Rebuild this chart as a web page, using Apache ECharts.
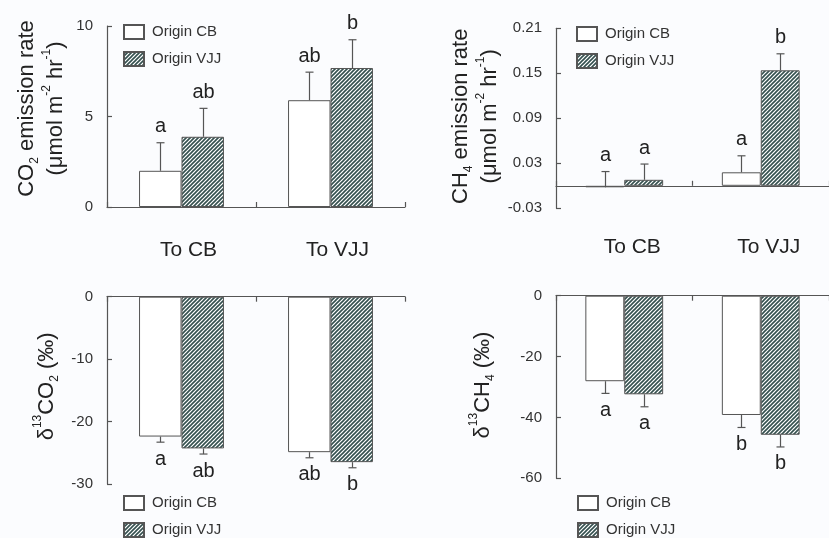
<!DOCTYPE html>
<html><head><meta charset="utf-8">
<script src="https://cdn.jsdelivr.net/npm/echarts@6/dist/echarts.min.js"></script>
<style>html,body{margin:0;padding:0;background:#fbfcfe}#c{width:829px;height:538px}</style>
</head><body><div id="c"></div>
<script>
// ---- data ----
const categories = ['To CB', 'To VJJ'];
const seriesNames = ['Origin CB', 'Origin VJJ'];
// CO2 emission rate
const co2CB = [2.0, 5.9];
const co2CBErr = [1.55, 1.55];
const co2VJJ = [3.88, 7.68];
const co2VJJErr = [1.57, 1.56];
const co2CBLetters = ['a', 'ab'];
const co2VJJLetters = ['ab', 'b'];
// CH4 emission rate
const ch4CB = [-0.002, 0.018];
const ch4CBErr = [0.021, 0.022];
const ch4VJJ = [0.008, 0.154];
const ch4VJJErr = [0.021, 0.022];
const ch4CBLetters = ['a', 'a'];
const ch4VJJLetters = ['a', 'b'];
// d13CO2
const dco2CB = [-22.4, -24.9];
const dco2CBErr = [0.9, 0.9];
const dco2VJJ = [-24.3, -26.5];
const dco2VJJErr = [0.9, 0.9];
const dco2CBLetters = ['a', 'ab'];
const dco2VJJLetters = ['ab', 'b'];
// d13CH4
const dch4CB = [-28.1, -39.2];
const dch4CBErr = [4.0, 4.1];
const dch4VJJ = [-32.4, -45.7];
const dch4VJJErr = [4.1, 4.0];
const dch4CBLetters = ['a', 'b'];
const dch4VJJLetters = ['a', 'b'];
// y-axis ticks
const yTicks = [
  {min: 0, max: 10, interval: 5},
  {min: -0.03, max: 0.21, interval: 0.06},
  {min: -30, max: 0, interval: 10},
  {min: -60, max: 0, interval: 20}
];

// ---- style ----
const FONT = 'Liberation Sans, Arial, sans-serif';
const AX = '#555';
const TXT = '#222';
const GAP = 0.43;

const pc = document.createElement('canvas');
pc.width = 4; pc.height = 4;
const g = pc.getContext('2d');
g.fillStyle = '#ffffff'; g.fillRect(0, 0, 4, 4);
g.strokeStyle = '#34504f'; g.lineWidth = 1.6;
g.beginPath();
g.moveTo(-1, 5); g.lineTo(5, -1);
g.moveTo(-1, 1); g.lineTo(1, -1);
g.moveTo(3, 5); g.lineTo(5, 3);
g.stroke();
const hatch = {image: pc, repeat: 'repeat'};

const styles = [
  {color: '#ffffff', borderColor: AX, borderWidth: 1},
  {color: hatch, borderColor: AX, borderWidth: 1}
];

const grids = [
  {left: 107, right: 424, top: 26, bottom: 331},
  {left: 556, right: -9, top: 28.3, bottom: 329.7},
  {left: 107, right: 424, top: 296.7, bottom: 54},
  {left: 556, right: -9, top: 295.7, bottom: 59.7}
];

const rich = {
  t: {fontSize: 22, fontFamily: FONT, color: TXT, lineHeight: 29},
  s: {fontSize: 12, fontFamily: FONT, color: TXT, lineHeight: 12, verticalAlign: 'bottom'},
  p: {fontSize: 12, fontFamily: FONT, color: TXT, lineHeight: 14, verticalAlign: 'top'}
};
const names = [
  '{t|CO}{s|2}{t| emission rate}\n{t|(μmol m}{p|-2}{t| hr}{p|-1}{t|)}',
  '{t|CH}{s|4}{t| emission rate}\n{t|(μmol m}{p|-2}{t| hr}{p|-1}{t|)}',
  '{t|δ}{p|13}{t|CO}{s|2}{t| (‰)}',
  '{t|δ}{p|13}{t|CH}{s|4}{t| (‰)}'
];
const nameGaps = [37, 52, 46, 59];
const namePad = [[0, 0, 0, 16], [0, 0, 0, 4], [0, 0, 0, 8], [0, 0, 0, 4]];

const panels = [
  {cb: co2CB, cbE: co2CBErr, vj: co2VJJ, vjE: co2VJJErr, cbL: co2CBLetters, vjL: co2VJJLetters, dir: 1},
  {cb: ch4CB, cbE: ch4CBErr, vj: ch4VJJ, vjE: ch4VJJErr, cbL: ch4CBLetters, vjL: ch4VJJLetters, dir: 1},
  {cb: dco2CB, cbE: dco2CBErr, vj: dco2VJJ, vjE: dco2VJJErr, cbL: dco2CBLetters, vjL: dco2VJJLetters, dir: -1},
  {cb: dch4CB, cbE: dch4CBErr, vj: dch4VJJ, vjE: dch4VJJErr, cbL: dch4CBLetters, vjL: dch4VJJLetters, dir: -1}
];

const xAxes = [], yAxes = [], series = [], legends = [];
const legendPos = [[123, 24], [576, 26], [123, 495], [577, 495]];

panels.forEach((p, i) => {
  const top = i < 2;
  xAxes.push({
    type: 'category', gridIndex: i, data: categories,
    position: top ? 'bottom' : 'top',
    axisLine: {onZero: top, lineStyle: {color: AX, width: 1.2}},
    axisTick: {show: true, inside: true, length: 5, lineStyle: {color: AX, width: 1.2}},
    axisLabel: {show: top, fontSize: 21, fontFamily: FONT, color: TXT,
      margin: i === 0 ? 33 : 28, padding: [0, 0, 0, i === 0 ? 14 : 16]},
    splitLine: {show: false}
  });
  yAxes.push({
    type: 'value', gridIndex: i, min: yTicks[i].min, max: yTicks[i].max, interval: yTicks[i].interval,
    axisLine: {show: true, onZero: false, lineStyle: {color: AX, width: 1.2}},
    axisTick: {show: true, inside: true, length: 5, lineStyle: {color: AX, width: 1.2}},
    axisLabel: {fontSize: 15, fontFamily: FONT, color: '#333', margin: 14,
      formatter: v => i === 1 ? v.toFixed(2) : String(Math.round(v))},
    splitLine: {show: false},
    name: names[i], nameLocation: 'middle', nameRotate: 90, nameGap: nameGaps[i],
    nameTextStyle: {rich: rich, padding: namePad[i]}
  });
  const vals = [p.cb, p.vj], errs = [p.cbE, p.vjE], lets = [p.cbL, p.vjL];
  [0, 1].forEach(k => {
    series.push({
      type: 'bar', name: seriesNames[k], xAxisIndex: i, yAxisIndex: i,
      data: vals[k], barGap: '0%', barCategoryGap: (GAP * 100) + '%',
      itemStyle: styles[k], emphasis: {disabled: true}, silent: true
    });
  });
  [0, 1].forEach(k => {
    const side = k === 0 ? -1 : 1;
    series.push({
      type: 'custom', name: 'err' + i + k, xAxisIndex: i, yAxisIndex: i, silent: true, z: 5,
      data: vals[k].map((v, j) => [j, v, errs[k][j]]),
      renderItem: (params, api) => {
        const x = api.value(0), v = api.value(1), e = api.value(2);
        const p0 = api.coord([x, v]);
        const p1 = api.coord([x, v + p.dir * e]);
        const band = api.size([1, 0])[0];
        const bw = band * (1 - GAP) / 2;
        const cx = Math.round(p0[0] + side * bw / 2) + 0.5;
        const st = {stroke: AX, lineWidth: 1.2};
        const txt = lets[k][params.dataIndex];
        return {type: 'group', children: [
          {type: 'line', shape: {x1: cx, y1: p0[1], x2: cx, y2: p1[1]}, style: st},
          {type: 'line', shape: {x1: cx - 4, y1: p1[1], x2: cx + 4, y2: p1[1]}, style: st},
          {type: 'text', x: cx, y: p1[1] - p.dir * (top ? 16 : 17),
            style: {text: txt, fontSize: 20, fontFamily: FONT, fill: TXT, align: 'center', verticalAlign: 'middle'}}
        ]};
      }
    });
  });
  legends.push({
    show: true, orient: 'vertical', left: legendPos[i][0], top: legendPos[i][1],
    width: 200, height: 80,
    data: seriesNames, itemWidth: 20, itemHeight: 14, itemGap: 11, icon: 'rect',
    textStyle: {fontSize: 15, fontFamily: FONT, color: '#333', padding: [0, 0, 0, 3]},
    selectedMode: false, padding: 0
  });
});

const chart = echarts.init(document.getElementById('c'));
chart.setOption({
  backgroundColor: '#fbfcfe',
  animation: false,
  grid: grids,
  xAxis: xAxes,
  yAxis: yAxes,
  legend: legends,
  series: series
});
</script></body></html>
